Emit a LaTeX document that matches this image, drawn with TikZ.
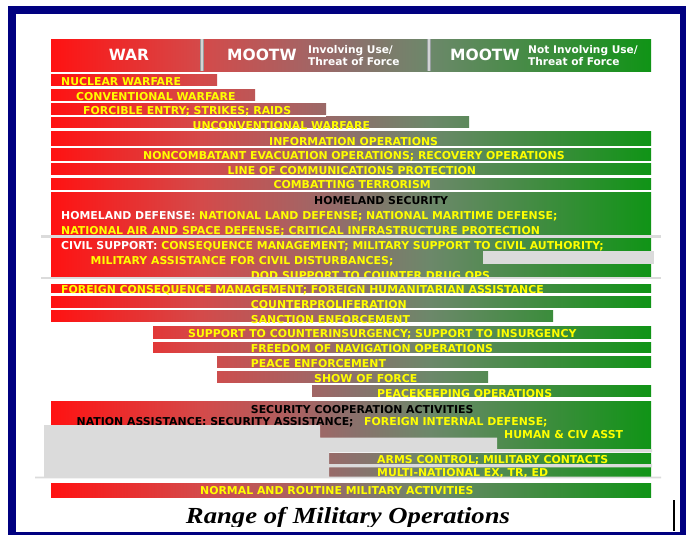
\documentclass[tikz,border=0pt]{standalone}
\usepackage{fontspec}
\usepackage{graphicx}
\newfontfamily\opsfam{DejaVu Sans}
\newfontfamily\titlefam{Liberation Serif}
\definecolor{cA}{RGB}{255,18,18}
\definecolor{cB}{RGB}{212,74,74}
\definecolor{cC}{RGB}{168,98,98}
\definecolor{cD}{RGB}{140,112,108}
\definecolor{cE}{RGB}{108,136,106}
\definecolor{cF}{RGB}{64,140,64}
\definecolor{cG}{RGB}{16,148,22}
\definecolor{opyellow}{RGB}{255,255,0}
\definecolor{lgray}{RGB}{219,219,219}
\definecolor{divgray}{RGB}{210,212,212}
\definecolor{divdark}{RGB}{150,158,158}
\definecolor{navyframe}{RGB}{0,0,128}
\pgfdeclarehorizontalshading{ops}{100bp}{color(0bp)=(cA); color(25bp)=(cA); color(37.5bp)=(cB); color(45.75bp)=(cC); color(50bp)=(cD); color(56.58bp)=(cE); color(65.75bp)=(cF); color(75bp)=(cG); color(100bp)=(cG)}
\newcommand\opsbar[4]{\begin{scope}\clip (#1,#2) rectangle (#3,#4); \shade[shading=ops] (51,#2) rectangle (651,#4);\end{scope}}
\begin{document}
\begin{tikzpicture}[x=1pt,y=-1pt,
  optxt/.style={font=\opsfam\bfseries\fontsize{10.9}{12}\selectfont, text=opyellow, anchor=base west, inner sep=0pt},
  blacktxt/.style={optxt, text=black},
  headbig/.style={font=\opsfam\bfseries\fontsize{15.5}{17}\selectfont, text=white, anchor=base west, inner sep=0pt},
  headsmall/.style={font=\opsfam\bfseries\fontsize{10.6}{12}\selectfont, text=white, anchor=base west, inner sep=0pt},
  titletxt/.style={font=\titlefam\bfseries\itshape\fontsize{23}{26}\selectfont, text=black, anchor=base, inner sep=0pt}]
\useasboundingbox (0,0) rectangle (686,535);
\fill[white] (0,0) rectangle (686,535);
% header
\opsbar{51}{40}{651}{71.7}
\fill[divgray] (199.5,39.3) rectangle (203.5,71);
\draw[divdark, line width=1pt] (200,39.3) -- (200,71) (203,39.3) -- (203,71);
\fill[divgray] (426.7,39.3) rectangle (430.7,71);
\draw[divdark, line width=1pt] (427.2,39.3) -- (427.2,71) (430.2,39.3) -- (430.2,71);
\node[headbig, anchor=base] (war) at (129,61) {WAR};
\node[headbig] (mootwa) at (227,61) {MOOTW};
\node[headsmall] (inva) at (308,53.3) {Involving Use/};
\node[headsmall] (thra) at (308,65.7) {Threat of Force};
\node[headbig] (mootwb) at (450,61) {MOOTW};
\node[headsmall] (invb) at (528,53.3) {Not Involving Use/};
\node[headsmall] (thrb) at (528,65.7) {Threat of Force};
% bars
\opsbar{51}{75}{217}{85.7}
\opsbar{51}{89.3}{255}{100.7}
\opsbar{51}{104}{326}{115}
\opsbar{51}{116.3}{469}{127.7}
\fill[white] (51,115) rectangle (326,116.6);
\opsbar{51}{131}{651}{145}
\opsbar{51}{148.3}{651}{160}
\opsbar{51}{163}{651}{174.7}
\opsbar{51}{178}{651}{189}
\opsbar{51}{192.7}{651}{277}
\opsbar{51}{284.3}{651}{292.7}
\opsbar{51}{296}{651}{307}
\opsbar{51}{310}{553}{321.7}
\opsbar{153}{326}{651}{338.3}
\opsbar{153}{342}{651}{352.7}
\opsbar{217}{356}{651}{367.3}
\opsbar{217}{371}{488}{382}
\opsbar{312}{385}{651}{396.7}
\opsbar{51}{401}{651}{449}
\opsbar{329}{453.3}{651}{464}
\opsbar{329}{467.8}{651}{476.7}
\opsbar{51}{483.3}{651}{497.7}
% texts
\node[optxt] (nuc) at (61,85) {NUCLEAR WARFARE};
\node[optxt] (conv) at (76,100) {CONVENTIONAL WARFARE};
\node[optxt] (forc) at (83,114.7) {FORCIBLE ENTRY; STRIKES; RAIDS};
\node[optxt] (unconv) at (192.5,129.7) {UNCONVENTIONAL WARFARE};
\node[optxt] (info) at (269,145) {INFORMATION OPERATIONS};
\node[optxt] (neo) at (143,159) {NONCOMBATANT EVACUATION OPERATIONS; RECOVERY OPERATIONS};
\node[optxt] (loc) at (227.5,174) {LINE OF COMMUNICATIONS PROTECTION};
\node[optxt] (ct) at (273.4,188.7) {COMBATTING TERRORISM};
\node[blacktxt] (hs) at (314,204) {HOMELAND SECURITY};
\node[optxt] (hd) at (61,219) {\textcolor{white}{HOMELAND DEFENSE:} NATIONAL LAND DEFENSE; NATIONAL MARITIME DEFENSE;};
\node[optxt] (nasd) at (61,234) {NATIONAL AIR AND SPACE DEFENSE; CRITICAL INFRASTRUCTURE PROTECTION};
\node[optxt] (cs) at (61,249) {\textcolor{white}{CIVIL SUPPORT:} CONSEQUENCE MANAGEMENT; MILITARY SUPPORT TO CIVIL AUTHORITY;};
\node[optxt] (macd) at (90.5,264) {MILITARY ASSISTANCE FOR CIVIL DISTURBANCES;};
\node[optxt] (dod) at (250.7,279) {DOD SUPPORT TO COUNTER DRUG OPS};
\node[optxt] (fcm) at (61,293.3) {FOREIGN CONSEQUENCE MANAGEMENT; FOREIGN HUMANITARIAN ASSISTANCE};
\node[optxt] (cp) at (250.7,308.3) {COUNTERPROLIFERATION};
\node[optxt] (se) at (250.7,323) {SANCTION ENFORCEMENT};
\node[optxt] (coin) at (188,337.7) {SUPPORT TO COUNTERINSURGENCY; SUPPORT TO INSURGENCY};
\node[optxt] (fon) at (250.7,352.3) {FREEDOM OF NAVIGATION OPERATIONS};
\node[optxt] (pe) at (250.7,367.7) {PEACE ENFORCEMENT};
\node[optxt] (sof) at (314,382.7) {SHOW OF FORCE};
\node[optxt] (pk) at (377,397.3) {PEACEKEEPING OPERATIONS};
\node[blacktxt] (sca) at (250.7,413.3) {SECURITY COOPERATION ACTIVITIES};
\node[blacktxt] (na) at (76.5,425.7) {NATION ASSISTANCE: SECURITY ASSISTANCE;};
\node[optxt] (fid) at (364,425.7) {FOREIGN INTERNAL DEFENSE;};
\node[optxt] (hca) at (504,438.7) {HUMAN \& CIV ASST};
\node[optxt] (arms) at (377,463.7) {ARMS CONTROL; MILITARY CONTACTS};
\node[optxt] (mnex) at (377,476.7) {MULTI-NATIONAL EX, TR, ED};
\node[optxt] (norm) at (200,494) {NORMAL AND ROUTINE MILITARY ACTIVITIES};
% gray overlays
\fill[lgray] (41,235.3) rectangle (660.5,237.7);
\fill[lgray] (41,276.7) rectangle (660.5,279.3);
\fill[lgray] (483,251) rectangle (654,263.7);
\fill[lgray] (44,425) -- (320,425) -- (320,437.7) -- (497,437.7) -- (497,449) -- (652,449) -- (652,452.3) -- (329,452.3) -- (329,464) -- (652,464) -- (652,467.3) -- (329,467.3) -- (329,476.7) -- (661,476.7) -- (661,478.3) -- (35,478.3) -- (35,476.7) -- (44,476.7) -- cycle;
% title
\begin{scope}
\clip (0,490) rectangle (686,526);
\node[titletxt] (title) at (348,523.3) {\resizebox{324pt}{\height}{Range of Military Operations}};
\end{scope}
\draw[line width=2.3pt] (673.8,500) -- (673.8,530.7);
% frame
\draw[navyframe, line width=8pt] (12,10) rectangle (684,536);
\end{tikzpicture}
\end{document}
